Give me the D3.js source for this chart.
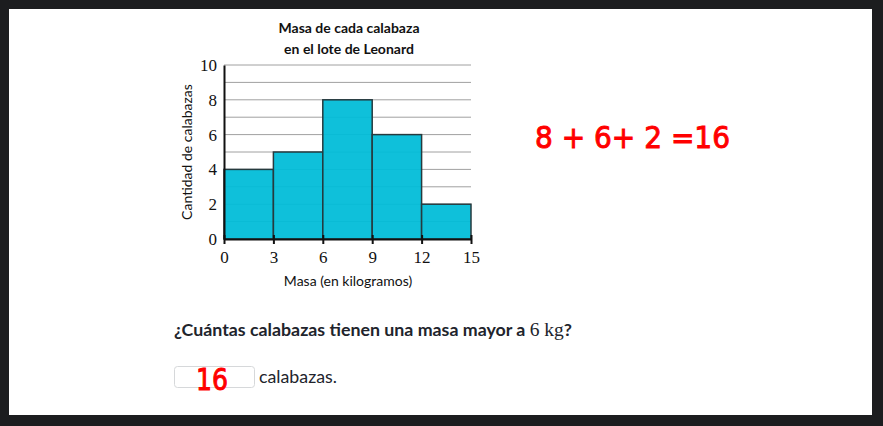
<!DOCTYPE html>
<html><head><meta charset="utf-8">
<script src="https://cdn.jsdelivr.net/npm/d3@7"></script>
<style>
html,body{margin:0;padding:0;background:#1c1d1f;}
svg{display:block;}
</style></head>
<body>
<svg id="c" width="883" height="426"></svg>
<script>
const binStarts = [0, 3, 6, 9, 12];
const binWidth = 3;
const counts = [4, 5, 8, 6, 2];
const xTicks = [0, 3, 6, 9, 12, 15];
const yTicks = [0, 2, 4, 6, 8, 10];
const gridValues = [1,2,3,4,5,6,7,8,9,10];
const titleLines = ["Masa de cada calabaza", "en el lote de Leonard"];
const xLabel = "Masa (en kilogramos)";
const yLabel = "Cantidad de calabazas";

const svg = d3.select("#c");
svg.append("rect").attr("x",9).attr("y",9).attr("width",863).attr("height",406).attr("fill","#fff");

const x = d3.scaleLinear().domain([0,15]).range([224,471]);
const y = d3.scaleLinear().domain([0,10]).range([239,65]);

// gridlines
svg.append("g").selectAll("line").data(gridValues).join("line")
  .attr("x1",x(0)).attr("x2",x(15)).attr("y1",d=>y(d)).attr("y2",d=>y(d))
  .attr("stroke","#a0a0a0").attr("stroke-width",1);

// bars
svg.append("g").selectAll("rect").data(binStarts).join("rect")
  .attr("x",(d)=>x(d)).attr("width",(d)=>x(d+binWidth)-x(d))
  .attr("y",(d,i)=>y(counts[i])).attr("height",(d,i)=>y(0)-y(counts[i]))
  .attr("fill","#00bcd8").attr("fill-opacity",0.94)
  .attr("stroke","#263a3e").attr("stroke-width",1.5);

// x axis
const xa = svg.append("g").attr("transform",`translate(0,${y(0)})`)
  .call(d3.axisBottom(x).tickValues(xTicks).tickSize(5).tickSizeOuter(0));
xa.select(".domain").attr("stroke","#111").attr("stroke-width",2);
xa.selectAll(".tick line").attr("stroke","#111").attr("stroke-width",2).attr("y1",-4);
xa.selectAll(".tick text").attr("font-family","'Liberation Serif', serif").attr("font-size",17).attr("fill","#111").attr("dy","0.95em");

// y axis
const ya = svg.append("g").attr("transform",`translate(${x(0)},0)`)
  .call(d3.axisLeft(y).tickValues(yTicks).tickSize(0).tickSizeOuter(0).tickPadding(7));
ya.select(".domain").attr("stroke","#111").attr("stroke-width",2);
ya.selectAll(".tick text").attr("font-family","'Liberation Serif', serif").attr("font-size",17).attr("fill","#111");

// titles
svg.append("g").selectAll("text").data(titleLines).join("text")
  .attr("x",349).attr("y",(d,i)=>33+i*21).attr("text-anchor","middle")
  .attr("font-family","Lato, sans-serif").attr("font-weight","bold").attr("font-size",14)
  .attr("fill","#111").text(d=>d);

svg.append("text").attr("x",348).attr("y",286).attr("text-anchor","middle")
  .attr("font-family","Lato, sans-serif").attr("font-size",14).attr("fill","#111").text(xLabel);

svg.append("text").attr("transform","translate(192,152) rotate(-90)").attr("text-anchor","middle")
  .attr("font-family","Lato, sans-serif").attr("font-size",14).attr("fill","#111").text(yLabel);

// question
const q = svg.append("text").attr("x",174).attr("y",336)
  .attr("font-family","Lato, sans-serif").attr("font-weight","bold").attr("font-size",17.8).attr("fill","#21242c");
q.append("tspan").text("¿Cuántas calabazas tienen una masa mayor a ");
q.append("tspan").attr("font-family","'Liberation Serif', serif").attr("font-weight","normal").attr("font-size",19.5).text("6 kg");
q.append("tspan").text("?");

// input box
svg.append("rect").attr("x",174.5).attr("y",366.5).attr("width",80).attr("height",21).attr("rx",3)
  .attr("fill","#fff").attr("stroke","#d6d8da");
svg.append("text").attr("x",259).attr("y",383)
  .attr("font-family","Lato, sans-serif").attr("font-size",17.8).attr("fill","#21242c").text("calabazas.");

// handwriting
svg.append("text").attr("x",535).attr("y",148).attr("textLength",195).attr("lengthAdjust","spacingAndGlyphs")
  .attr("font-family","'DejaVu Sans', sans-serif").attr("font-size",31).attr("fill","#ff0000")
  .attr("stroke","#ff0000").attr("stroke-width",1).text("8 + 6+  2 =16");
svg.append("text").attr("x",196).attr("y",390).attr("textLength",32).attr("lengthAdjust","spacingAndGlyphs")
  .attr("font-family","'DejaVu Sans', sans-serif").attr("font-size",30).attr("fill","#ff0000")
  .attr("stroke","#ff0000").attr("stroke-width",1).text("16");
</script>
</body></html>
